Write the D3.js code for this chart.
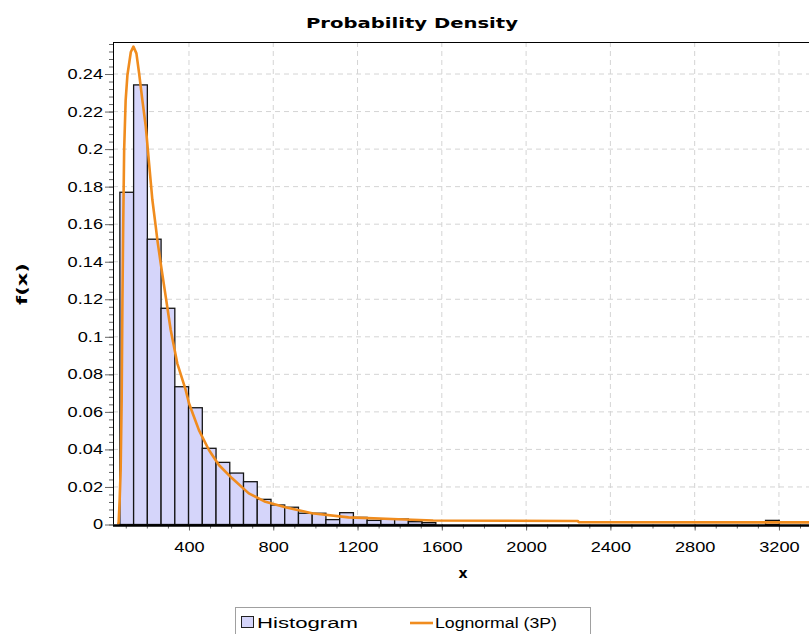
<!DOCTYPE html>
<html>
<head>
<meta charset="utf-8">
<script src="https://cdnjs.cloudflare.com/ajax/libs/d3/7.8.5/d3.min.js"></script>
<style>
  body { margin: 0; background: #fff; }
  svg { display: block; }
  .tick text { font-family: "Liberation Sans", Arial, sans-serif; font-size: 14px; fill: #000; }
</style>
</head>
<body>
<div id="chart"></div>
<script>
// Histogram (density per bin, equal-width bins)
const histStart = 72;
const histBinWidth = 65.2;
const histDensity = [
  0.177, 0.2342, 0.152, 0.1152, 0.0734, 0.0622, 0.0406, 0.0331, 0.0274, 0.0228,
  0.0134, 0.0104, 0.0092, 0.006, 0.006, 0.0026, 0.0063, 0.0038, 0.0022, 0.0029,
  0.0029, 0.0015, 0.001, 0, 0, 0, 0, 0, 0, 0,
  0, 0, 0, 0, 0, 0, 0, 0, 0, 0,
  0, 0, 0, 0, 0, 0, 0, 0.0022
];

// Lognormal (3P) fitted curve
const curveX = [64, 66.3, 71, 75.7, 80.5, 84.2, 87.6, 92.3, 99.4, 107.9, 124, 136.3, 150.5, 163.3,
  178.9, 195, 210.6, 226.2, 242.3, 249.9, 266, 289.6, 313.3, 344.5, 384.3, 400, 423.6, 447.2,
  494.6, 541.9, 604.8, 683.9, 762.9, 857.6, 983.4, 1157, 1394, 1559, 2245, 2250, 3450];
const curveY = [0, 0.0013, 0.013, 0.029, 0.066, 0.12, 0.157, 0.1995, 0.226, 0.2395, 0.2517, 0.2546, 0.251, 0.2404,
  0.226, 0.212, 0.1924, 0.173, 0.1587, 0.1516, 0.139, 0.1214, 0.1036, 0.0859, 0.0717, 0.0646, 0.0574, 0.0503,
  0.0397, 0.0317, 0.0246, 0.0166, 0.0121, 0.0092, 0.006, 0.0038, 0.0028, 0.0021, 0.0019, 0.0012, 0.0011];

// Axis ticks
const xTicks = [400, 800, 1200, 1600, 2000, 2400, 2800, 3200];
const xMinorTicks = d3.range(100, 3500, 100);
const yTicks = [0, 0.02, 0.04, 0.06, 0.08, 0.1, 0.12, 0.14, 0.16, 0.18, 0.2, 0.22, 0.24];
const yMinorTicks = d3.range(0, 0.257, 0.004);

const legendLabels = ["Histogram", "Lognormal (3P)"];

const width = 809, height = 634;
const plot = { left: 113, top: 42, right: 840, bottom: 524.5 };
const textStretch = 1.3;

const colorBar = "#d5d5fa";
const colorCurve = "#f08c1e";
const colorGrid = "#d4d4d4";

const svg = d3.select("#chart").append("svg")
  .attr("width", width)
  .attr("height", height);

const x = d3.scaleLinear()
  .domain([(plot.left - 104.7) / 0.2107, (plot.right - 104.7) / 0.2107])
  .range([plot.left, plot.right]);
const y = d3.scaleLinear()
  .domain([0, (plot.bottom - plot.top) / 1877])
  .range([plot.bottom, plot.top]);

// Title
svg.append("text")
  .attr("x", 412).attr("y", 28)
  .attr("text-anchor", "middle")
  .attr("font-family", "DejaVu Sans, sans-serif")
  .attr("font-weight", "bold")
  .attr("font-size", 14)
  .attr("textLength", 212)
  .attr("lengthAdjust", "spacingAndGlyphs")
  .text("Probability Density");

// Grid
const grid = svg.append("g");
grid.selectAll(".gx").data(xTicks).join("line")
  .attr("x1", d => x(d)).attr("x2", d => x(d))
  .attr("y1", plot.top).attr("y2", plot.bottom)
  .attr("stroke", colorGrid).attr("stroke-dasharray", "5,4");
grid.selectAll(".gy").data(yTicks.filter(d => d > 0)).join("line")
  .attr("x1", plot.left).attr("x2", plot.right)
  .attr("y1", d => y(d)).attr("y2", d => y(d))
  .attr("stroke", colorGrid).attr("stroke-dasharray", "5,4");

// Histogram bars
const bins = histDensity.map((v, i) => ({ x0: histStart + i * histBinWidth, x1: histStart + (i + 1) * histBinWidth, v }));
svg.append("g").selectAll("rect").data(bins.filter(d => d.v > 0)).join("rect")
  .attr("x", d => x(d.x0))
  .attr("width", d => x(d.x1) - x(d.x0))
  .attr("y", d => y(d.v))
  .attr("height", d => y(0) - y(d.v))
  .attr("fill", colorBar)
  .attr("stroke", "#141414")
  .attr("stroke-width", 1.3);

// Fitted curve
const line = d3.line().x(d => x(d[0])).y(d => y(d[1]));
svg.append("path")
  .datum(curveX.map((v, i) => [v, curveY[i]]))
  .attr("d", line)
  .attr("fill", "none")
  .attr("stroke", colorCurve)
  .attr("stroke-width", 2.6)
  .attr("stroke-linejoin", "round");

// Plot border (top, left)
svg.append("line").attr("x1", plot.left).attr("x2", plot.right)
  .attr("y1", plot.top + 0.5).attr("y2", plot.top + 0.5).attr("stroke", "#000");
svg.append("line").attr("x1", plot.left + 0.5).attr("x2", plot.left + 0.5)
  .attr("y1", plot.top).attr("y2", plot.bottom).attr("stroke", "#000");

// Y axis
const yAxis = svg.append("g").attr("transform", `translate(${plot.left},0)`);
yAxis.append("g").call(d3.axisLeft(y).tickValues(yMinorTicks).tickSize(4).tickFormat(""))
  .call(g => g.select(".domain").remove())
  .selectAll("line").attr("stroke", "#666");
const yMajor = yAxis.append("g").call(d3.axisLeft(y).tickValues(yTicks).tickSize(8).tickPadding(2)
  .tickFormat(d => String(+d.toFixed(2))));
yMajor.select(".domain").remove();
yMajor.selectAll("line").attr("stroke", "#666");
yMajor.selectAll("text")
  .attr("transform", `scale(${textStretch},1)`)
  .attr("x", -10 / textStretch);

// X axis
const xAxis = svg.append("g").attr("transform", `translate(0,${plot.bottom})`);
xAxis.append("g").call(d3.axisBottom(x).tickValues(xMinorTicks).tickSize(4).tickFormat(""))
  .call(g => g.select(".domain").remove())
  .selectAll("line").attr("stroke", "#666");
const xMajor = xAxis.append("g").call(d3.axisBottom(x).tickValues(xTicks).tickSize(6).tickFormat(d => String(d)));
xMajor.select(".domain").remove();
xMajor.selectAll("line").attr("stroke", "#666");
xMajor.selectAll("text")
  .attr("transform", `scale(${textStretch},1)`)
  .attr("y", 18);
svg.append("line").attr("x1", plot.left).attr("x2", plot.right)
  .attr("y1", plot.bottom + 1).attr("y2", plot.bottom + 1)
  .attr("stroke", "#000").attr("stroke-width", 2.5);

// Axis titles
svg.append("text")
  .attr("x", 463).attr("y", 578)
  .attr("text-anchor", "middle")
  .attr("font-family", "DejaVu Sans, sans-serif")
  .attr("font-weight", "bold").attr("font-size", 14)
  .text("x");
svg.append("text")
  .attr("transform", "translate(27,284) rotate(-90)")
  .attr("text-anchor", "middle")
  .attr("font-family", "DejaVu Sans, sans-serif")
  .attr("font-weight", "bold").attr("font-size", 14)
  .attr("textLength", 42).attr("lengthAdjust", "spacingAndGlyphs")
  .text("f(x)");

// Legend
const legend = svg.append("g");
legend.append("rect")
  .attr("x", 235.5).attr("y", 607.5).attr("width", 355).attr("height", 40)
  .attr("fill", "#fff").attr("stroke", "#a0a0a0");
legend.append("rect")
  .attr("x", 241.5).attr("y", 616.5).attr("width", 12).attr("height", 11)
  .attr("fill", colorBar).attr("stroke", "#222");
legend.append("line")
  .attr("x1", 410).attr("x2", 433).attr("y1", 623).attr("y2", 623)
  .attr("stroke", colorCurve).attr("stroke-width", 2.6);
const legendText = [
  { x: 257, w: 101 },
  { x: 435, w: 122 }
];
legend.selectAll("text.lbl").data(legendLabels).join("text")
  .attr("x", (d, i) => legendText[i].x).attr("y", 628)
  .attr("font-family", "Liberation Sans, Arial, sans-serif")
  .attr("font-size", 14)
  .attr("textLength", (d, i) => legendText[i].w)
  .attr("lengthAdjust", "spacingAndGlyphs")
  .text(d => d);
</script>
</body>
</html>
